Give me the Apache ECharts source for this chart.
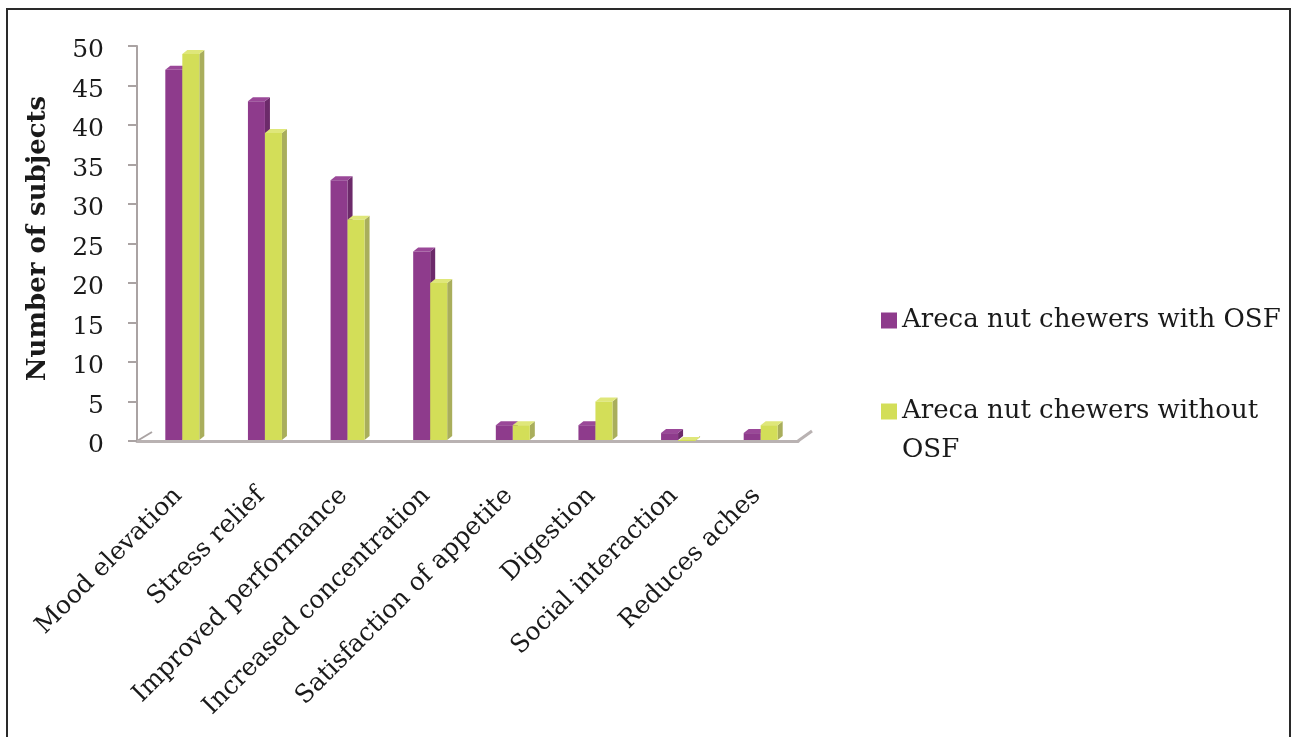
<!DOCTYPE html>
<html>
<head>
<meta charset="utf-8">
<script src="https://cdn.jsdelivr.net/npm/echarts@6/dist/echarts.min.js"></script>
<style>
  html, body { margin: 0; padding: 0; background: #fff; }
  #chart { width: 1291px; height: 737px; }
</style>
</head>
<body>
<div id="chart"></div>
<script>
// Reasons given for chewing areca nut, by group
const categories = [
  'Mood elevation', 'Stress relief', 'Improved performance', 'Increased concentration',
  'Satisfaction of appetite', 'Digestion', 'Social interaction', 'Reduces aches'
];
const withOSF = [47, 43, 33, 24, 2, 2, 1, 1];
const withoutOSF = [49, 39, 28, 20, 2, 5, 0, 2];
const seriesNames = ['Areca nut chewers with OSF', 'Areca nut chewers without OSF'];
const yTicks = [0, 5, 10, 15, 20, 25, 30, 35, 40, 45, 50];

const FONT = '"DejaVu Serif", "Liberation Serif", serif';
const LEGEND_LINE = 39;
const palette = [
  { front: '#8e3b8c', side: '#6c2a6a', top: '#9a4898' },
  { front: '#d3de58', side: '#a9ae5c', top: '#dfe77a' }
];

// Box-shaped column: front face, right side face and top face
function makeBox(which) {
  return function (params, api) {
    const idx = api.value(0);
    const val = api.value(1);
    const base = api.coord([idx, 0]);
    const top = api.coord([idx, val]);
    const w = 17, dx = 5, dy = -4;
    const shift = 4;
    const x0 = base[0] + shift + (which === 0 ? -w : 0);
    const x1 = x0 + w;
    const yb = base[1] - 1;
    const yt = top[1];
    const c = palette[which];
    return {
      type: 'group',
      children: [
        { type: 'polygon', shape: { points: [[x1, yb], [x1 + dx, yb + dy], [x1 + dx, yt + dy], [x1, yt]] },
          style: { fill: c.side } },
        { type: 'polygon', shape: { points: [[x0, yt], [x1, yt], [x1 + dx, yt + dy], [x0 + dx, yt + dy]] },
          style: { fill: c.top } },
        { type: 'rect', shape: { x: x0, y: yt, width: w, height: yb - yt },
          style: { fill: c.front } }
      ]
    };
  };
}

const chart = echarts.init(document.getElementById('chart'));
chart.setOption({
  backgroundColor: '#fff',
  animation: false,
  grid: { left: 137, top: 46, width: 661, height: 395 },
  legend: {
    orient: 'vertical',
    left: 876,
    top: 296,
    itemWidth: 16,
    itemHeight: 16,
    itemGap: 13,
    icon: 'rect',
    data: seriesNames.map((n, i) => ({ name: n, itemStyle: { color: palette[i].front } })),
    // the long name wraps onto two lines; a leading blank line keeps
    // its first line level with the swatch
    formatter: name => (name === seriesNames[1] ? '\n' + name : name),
    textStyle: { fontFamily: FONT, fontSize: 26, color: '#1a1a1a', width: 380, overflow: 'break', lineHeight: LEGEND_LINE }
  },
  xAxis: {
    type: 'category',
    data: categories,
    axisLine: { lineStyle: { color: '#b9b2b2', width: 3 } },
    axisTick: { show: false },
    axisLabel: {
      interval: 0, rotate: 45, margin: 51,
      fontFamily: FONT, fontSize: 25, color: '#1a1a1a'
    }
  },
  yAxis: {
    type: 'value',
    min: 0, max: 50, interval: 5,
    name: 'Number of subjects',
    nameLocation: 'middle',
    nameGap: 86,
    nameTextStyle: { fontFamily: FONT, fontSize: 26, fontWeight: 'bold', color: '#1a1a1a', padding: [0, 0, 0, 10] },
    axisLine: { show: true, lineStyle: { color: '#aaa3a3', width: 2 } },
    axisTick: { show: true, length: 9, lineStyle: { color: '#aaa3a3', width: 2 } },
    splitLine: { show: false },
    axisLabel: {
      margin: 33, fontFamily: FONT, fontSize: 25, color: '#1a1a1a',
      verticalAlign: 'top', lineHeight: 9,
      formatter: v => (yTicks.includes(v) ? String(v) : '')
    }
  },
  series: [
    { name: seriesNames[0], type: 'custom', renderItem: makeBox(0),
      itemStyle: { color: palette[0].front },
      data: withOSF.map((v, i) => [i, v]) },
    { name: seriesNames[1], type: 'custom', renderItem: makeBox(1),
      itemStyle: { color: palette[1].front },
      data: withoutOSF.map((v, i) => [i, v]) }
  ]
});

// Floor edges at both ends of the category axis, plus the frame
const gridRect = chart.getModel().getComponent('grid').coordinateSystem.getRect();
const yb = gridRect.y + gridRect.height;
chart.setOption({
  graphic: [
    { type: 'line', shape: { x1: gridRect.x, y1: yb, x2: gridRect.x + 15, y2: yb - 9 },
      style: { stroke: '#aaa3a3', lineWidth: 2 } },
    { type: 'line', shape: { x1: gridRect.x + gridRect.width, y1: yb, x2: gridRect.x + gridRect.width + 14, y2: yb - 10 },
      style: { stroke: '#b9b2b2', lineWidth: 3 } },
    { type: 'rect', shape: { x: 7, y: 9, width: 1283, height: 740 },
      style: { fill: 'none', stroke: '#2a2a2a', lineWidth: 2 } }
  ]
});
</script>
</body>
</html>
